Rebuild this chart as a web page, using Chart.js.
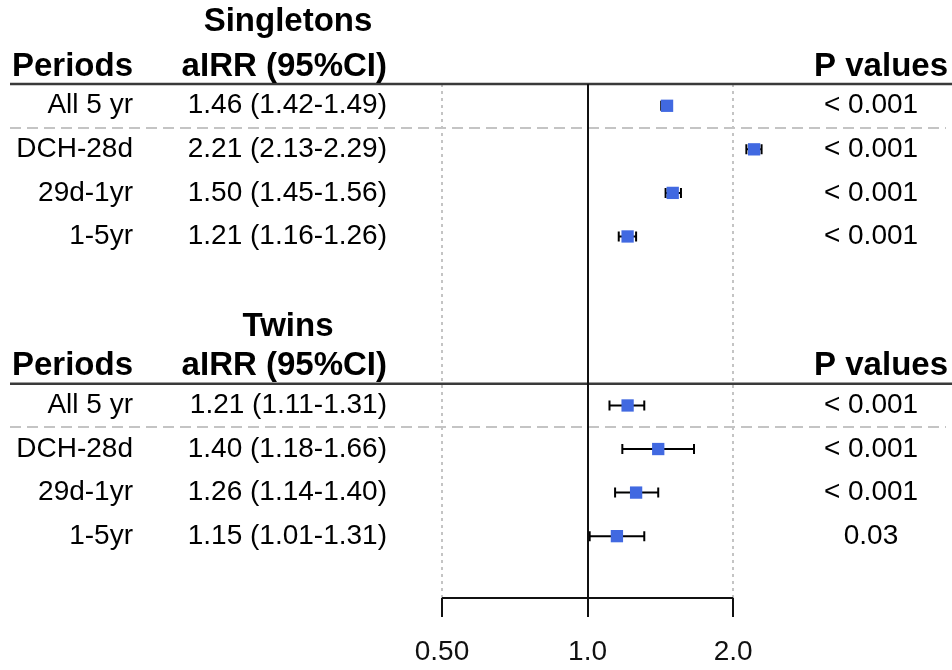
<!DOCTYPE html>
<html>
<head>
<meta charset="utf-8">
<script src="https://cdn.jsdelivr.net/npm/chart.js@4.4.1/dist/chart.umd.min.js"></script>
<style>
  html, body { margin: 0; padding: 0; background: #ffffff; }
  #wrap { width: 952px; height: 670px; }
</style>
</head>
<body>
<div id="wrap"><canvas id="forest" width="952" height="670"></canvas></div>
<script>
// ---- data ----
const periods = ['All 5 yr', 'DCH-28d', '29d-1yr', '1-5yr'];

const singletonEst  = [1.46, 2.21, 1.50, 1.21];
const singletonLow  = [1.42, 2.13, 1.45, 1.16];
const singletonHigh = [1.49, 2.29, 1.56, 1.26];
const singletonP    = ['< 0.001', '< 0.001', '< 0.001', '< 0.001'];

const twinEst  = [1.21, 1.40, 1.26, 1.15];
const twinLow  = [1.11, 1.18, 1.14, 1.01];
const twinHigh = [1.31, 1.66, 1.40, 1.31];
const twinP    = ['< 0.001', '< 0.001', '< 0.001', '0.03'];

const groupTitles = ['Singletons', 'Twins'];
const tickValues = [0.5, 1, 2];
const tickLabels = ['0.50', '1.0', '2.0'];

// ---- layout (row units on the y scale) ----
const groups = [
  { title: groupTitles[0], titleRow: 0.07, headRow: 1.1, ruleRow: 1.5,  rows: [2, 3, 4, 5],
    est: singletonEst, low: singletonLow, high: singletonHigh, p: singletonP },
  { title: groupTitles[1], titleRow: 7.08, headRow: 7.98, ruleRow: 8.38, rows: [8.88, 9.88, 10.88, 11.88],
    est: twinEst, low: twinLow, high: twinHigh, p: twinP }
];

const FONT = '"Liberation Sans", Arial, sans-serif';
const REG = '28px ' + FONT;
const BOLD = 'bold 33px ' + FONT;
const COL_PERIOD_RIGHT = 133;
const COL_CI_RIGHT = 387;
const COL_CI_CENTER = 288;
const COL_P_CENTER = 871;
const COL_P_RIGHT = 948;
const RULE_LEFT = 10;
const RULE_RIGHT = 952;
const BOX_COLOR = '#4169E1';
const X_MAX = 2.5;   // scale runs past the last tick so the widest interval fits

function ciText(e, l, h) {
  return e.toFixed(2) + ' (' + l.toFixed(2) + '-' + h.toFixed(2) + ')';
}

// table text, rules, reference lines and the x axis
const forestPlugin = {
  id: 'forest',
  beforeDatasetsDraw(chart) {
    const { ctx, chartArea, scales } = chart;
    const xs = scales.x, ys = scales.y;
    const top = chartArea.top, axisY = chartArea.bottom;
    ctx.save();

    // dotted guides at 0.5 and 2
    ctx.strokeStyle = '#c4c4c4';
    ctx.lineWidth = 2;
    ctx.setLineDash([3, 4]);
    [tickValues[0], tickValues[2]].forEach(v => {
      const px = Math.round(xs.getPixelForValue(v));
      ctx.beginPath();
      ctx.moveTo(px, top);
      ctx.lineTo(px, axisY);
      ctx.stroke();
    });

    // dashed separators under the first row of each group
    ctx.setLineDash([11, 6]);
    groups.forEach(g => {
      const py = Math.round(ys.getPixelForValue(g.rows[0] + 0.5));
      ctx.beginPath();
      ctx.moveTo(RULE_LEFT, py);
      ctx.lineTo(RULE_RIGHT - 6, py);
      ctx.stroke();
    });
    ctx.setLineDash([]);

    // solid header rules
    ctx.strokeStyle = '#3a3a3a';
    ctx.lineWidth = 2.5;
    groups.forEach(g => {
      const py = ys.getPixelForValue(g.ruleRow);
      ctx.beginPath();
      ctx.moveTo(RULE_LEFT, py);
      ctx.lineTo(RULE_RIGHT, py);
      ctx.stroke();
    });

    // x axis: line, ticks, labels
    const tickLen = 19;
    ctx.strokeStyle = '#111';
    ctx.lineWidth = 2;
    ctx.beginPath();
    ctx.moveTo(xs.getPixelForValue(tickValues[0]), axisY);
    ctx.lineTo(xs.getPixelForValue(tickValues[tickValues.length - 1]), axisY);
    ctx.stroke();
    tickValues.forEach(v => {
      const px = Math.round(xs.getPixelForValue(v));
      ctx.beginPath();
      ctx.moveTo(px, axisY);
      ctx.lineTo(px, axisY + tickLen);
      ctx.stroke();
    });
    // line of no effect at 1
    const oneX = Math.round(xs.getPixelForValue(1));
    ctx.beginPath();
    ctx.moveTo(oneX, top);
    ctx.lineTo(oneX, axisY);
    ctx.stroke();

    ctx.fillStyle = '#111';
    ctx.font = REG;
    ctx.textAlign = 'center';
    ctx.textBaseline = 'middle';
    tickValues.forEach((v, i) => {
      ctx.fillText(tickLabels[i], xs.getPixelForValue(v), axisY + 54);
    });

    // confidence interval whiskers
    ctx.strokeStyle = '#000';
    ctx.lineWidth = 2;
    groups.forEach(g => {
      g.rows.forEach((r, i) => {
        const py = ys.getPixelForValue(r);
        const x1 = xs.getPixelForValue(g.low[i]);
        const x2 = xs.getPixelForValue(g.high[i]);
        ctx.beginPath();
        ctx.moveTo(x1, py); ctx.lineTo(x2, py);
        ctx.moveTo(x1, py - 5); ctx.lineTo(x1, py + 5);
        ctx.moveTo(x2, py - 5); ctx.lineTo(x2, py + 5);
        ctx.stroke();
      });
    });

    // table text
    ctx.fillStyle = '#000';
    groups.forEach(g => {
      ctx.font = BOLD;
      ctx.textAlign = 'center';
      ctx.fillText(g.title, COL_CI_CENTER, ys.getPixelForValue(g.titleRow));
      const hy = ys.getPixelForValue(g.headRow);
      ctx.textAlign = 'right';
      ctx.fillText('Periods', COL_PERIOD_RIGHT, hy);
      ctx.fillText('aIRR (95%CI)', COL_CI_RIGHT, hy);
      ctx.fillText('P values', COL_P_RIGHT, hy);

      ctx.font = REG;
      g.rows.forEach((r, i) => {
        const py = ys.getPixelForValue(r);
        ctx.textAlign = 'right';
        ctx.fillText(periods[i], COL_PERIOD_RIGHT, py);
        ctx.fillText(ciText(g.est[i], g.low[i], g.high[i]), COL_CI_RIGHT, py);
        ctx.textAlign = 'center';
        ctx.fillText(g.p[i], COL_P_CENTER, py);
      });
    });

    ctx.restore();
  }
};

const datasets = groups.map(g => ({
  label: g.title,
  data: g.est.map((e, i) => ({ x: e, y: g.rows[i] })),
  pointStyle: 'rect',
  pointRadius: 8.7,
  pointHoverRadius: 8.7,
  pointBackgroundColor: BOX_COLOR,
  pointBorderColor: BOX_COLOR,
  pointBorderWidth: 0,
  showLine: false,
  clip: false
}));

new Chart(document.getElementById('forest'), {
  type: 'scatter',
  data: { datasets },
  options: {
    responsive: false,
    animation: false,
    events: [],
    layout: { padding: { left: 442, right: 172, top: 84, bottom: 72 } },
    plugins: { legend: { display: false }, tooltip: { enabled: false } },
    scales: {
      x: {
        type: 'logarithmic',
        min: tickValues[0],
        max: X_MAX,
        display: false
      },
      y: {
        type: 'linear',
        reverse: true,
        min: 1.5,
        max: 13.3,
        display: false
      }
    }
  },
  plugins: [forestPlugin]
});
</script>
</body>
</html>
